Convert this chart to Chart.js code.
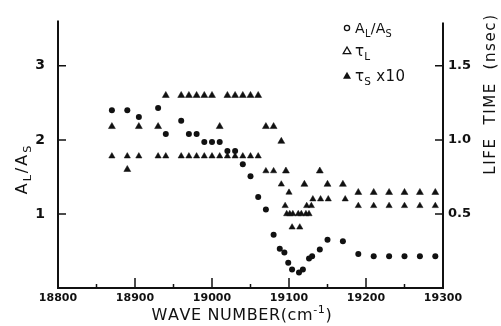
<!DOCTYPE html>
<html>
<head>
<meta charset="utf-8">
<script src="https://cdn.jsdelivr.net/npm/chart.js@4/dist/chart.umd.min.js"></script>
<style>
    html, body { margin: 0; padding: 0; background: #fff; }
    #wrap { width: 501px; height: 326px; }
</style>
</head>
<body>
<div id="wrap"><canvas id="chart" width="501" height="326"></canvas></div>
<script>
    "use strict";

    // A_L / A_S (left axis)
    var ratioWave = [18870, 18890, 18905, 18930, 18940, 18960, 18970, 18980, 18990, 19000, 19010, 19020,
        19030, 19040, 19050, 19060, 19070, 19080, 19088, 19094, 19099, 19104, 19113, 19118, 19126, 19130,
        19140, 19150, 19170, 19190, 19210, 19230, 19250, 19270, 19290];
    var ratioValue = [2.40, 2.40, 2.31, 2.43, 2.08, 2.26, 2.08, 2.08, 1.97, 1.97, 1.97, 1.85,
        1.85, 1.67, 1.51, 1.23, 1.06, 0.72, 0.53, 0.48, 0.34, 0.25, 0.21, 0.25, 0.40, 0.43,
        0.52, 0.65, 0.63, 0.46, 0.43, 0.43, 0.43, 0.43, 0.43];

    // tau_S x 10 (right axis, nsec)
    var tauSWave = [18870, 18890, 18905, 18930, 18940, 18960, 18970, 18980, 18990, 19000, 19010, 19020,
        19030, 19040, 19050, 19060, 19070, 19080, 19090, 19096, 19120, 19140, 19150, 19170,
        19190, 19210, 19230, 19250, 19270, 19290];
    var tauSValue = [1.09, 0.80, 1.09, 1.09, 1.30, 1.30, 1.30, 1.30, 1.30, 1.30, 1.09, 1.30,
        1.30, 1.30, 1.30, 1.30, 1.09, 1.09, 0.99, 0.79, 0.70, 0.79, 0.70, 0.70,
        0.645, 0.645, 0.645, 0.645, 0.645, 0.645];

    // tau_L (right axis, nsec)
    var tauLWave = [18870, 18890, 18905, 18930, 18940, 18960, 18970, 18980, 18990, 19000, 19010, 19020,
        19030, 19040, 19050, 19060, 19070, 19080, 19090, 19095, 19100, 19104, 19114,
        19097, 19101, 19105, 19112, 19116, 19122, 19126, 19123, 19129,
        19131, 19141, 19151, 19173, 19190, 19210, 19230, 19250, 19270, 19290];
    var tauLValue = [0.89, 0.89, 0.89, 0.89, 0.89, 0.89, 0.89, 0.89, 0.89, 0.89, 0.89, 0.89,
        0.89, 0.89, 0.89, 0.89, 0.79, 0.79, 0.70, 0.555, 0.645, 0.41, 0.41,
        0.50, 0.50, 0.50, 0.50, 0.50, 0.50, 0.50, 0.555, 0.555,
        0.60, 0.60, 0.60, 0.60, 0.555, 0.555, 0.555, 0.555, 0.555, 0.555];

    var xTicks = [18800, 18900, 19000, 19100, 19200, 19300];
    var leftTicks = [1, 2, 3];
    var rightTicks = [0.5, 1.0, 1.5];

    var INK = '#111';
    var FAM = '"DejaVu Sans", sans-serif';

    function toPoints(xs, ys) {
        return xs.map(function (x, i) { return { x: x, y: ys[i] }; });
    }

    // text with sub/superscripts: parts = [[text, 0|1|2]], 1 = sub, 2 = sup
    function richWidth(ctx, parts, size, spacing) {
        var w = 0;
        parts.forEach(function (p) {
            ctx.font = (p[1] ? size * 0.7 : size) + 'px ' + FAM;
            w += ctx.measureText(p[0]).width + p[0].length * spacing;
        });
        return w;
    }

    function drawRich(ctx, parts, x, y, size, spacing) {
        parts.forEach(function (p) {
            var s = p[1] ? size * 0.7 : size;
            var dy = p[1] === 1 ? size * 0.28 : (p[1] === 2 ? -size * 0.42 : 0);
            ctx.font = s + 'px ' + FAM;
            for (var i = 0; i < p[0].length; i++) {
                ctx.fillText(p[0][i], x, y + dy);
                x += ctx.measureText(p[0][i]).width + spacing;
            }
        });
    }

    function triangle(ctx, x, y, r, filled) {
        ctx.beginPath();
        ctx.moveTo(x, y - r);
        ctx.lineTo(x + r * 0.95, y + r * 0.65);
        ctx.lineTo(x - r * 0.95, y + r * 0.65);
        ctx.closePath();
        if (filled) { ctx.fill(); } else { ctx.stroke(); }
    }

    var decorations = {
        id: 'decorations',
        afterDraw: function (chart) {
            var ctx = chart.ctx;
            var area = chart.chartArea;
            var sx = chart.scales.x, sl = chart.scales.yL, sr = chart.scales.yR;
            ctx.save();
            ctx.strokeStyle = INK;
            ctx.fillStyle = INK;

            // axis frame (no top line)
            ctx.lineWidth = 2;
            ctx.beginPath();
            ctx.moveTo(area.left, area.top - 1);
            ctx.lineTo(area.left, area.bottom);
            ctx.lineTo(area.right, area.bottom);
            ctx.lineTo(area.right, area.top + 1);
            ctx.stroke();

            // inward ticks
            ctx.lineWidth = 1.5;
            ctx.beginPath();
            for (var v = 18850; v < 19300; v += 50) {
                var px = sx.getPixelForValue(v);
                var len = xTicks.indexOf(v) >= 0 ? 10 : 4;
                ctx.moveTo(px, area.bottom);
                ctx.lineTo(px, area.bottom - len);
            }
            leftTicks.forEach(function (t) {
                var py = sl.getPixelForValue(t);
                ctx.moveTo(area.left + 1, py);
                ctx.lineTo(area.left + 8, py);
            });
            rightTicks.forEach(function (t) {
                var py = sr.getPixelForValue(t);
                ctx.moveTo(area.right - 1, py);
                ctx.lineTo(area.right - 8, py);
            });
            ctx.stroke();

            // axis titles
            ctx.textBaseline = 'alphabetic';
            var xt = [['WAVE NUMBER(cm', 0], ['-1', 2], [')', 0]];
            var w = richWidth(ctx, xt, 16, 0.6);
            drawRich(ctx, xt, 241 - w / 2, 320, 16, 0.6);

            var lt = [['A', 0], ['L', 1], ['/A', 0], ['S', 1]];
            ctx.save();
            ctx.translate(27, 169);
            ctx.rotate(-Math.PI / 2);
            w = richWidth(ctx, lt, 16, 2);
            drawRich(ctx, lt, -w / 2, 0, 16, 2);
            ctx.restore();

            var rt = [['LIFE  TIME  (nsec)', 0]];
            ctx.save();
            ctx.translate(495, 94);
            ctx.rotate(-Math.PI / 2);
            w = richWidth(ctx, rt, 15, 1.6);
            drawRich(ctx, rt, -w / 2, 0, 15, 1.6);
            ctx.restore();

            // legend
            ctx.lineWidth = 1.3;
            ctx.beginPath();
            ctx.arc(347, 28, 2.6, 0, Math.PI * 2);
            ctx.stroke();
            drawRich(ctx, [['A', 0], ['L', 1], ['/A', 0], ['S', 1]], 355, 33, 14, 0.3);
            triangle(ctx, 347, 51, 4, false);
            drawRich(ctx, [['τ', 0], ['L', 1]], 355, 56, 15, 0.3);
            triangle(ctx, 347, 76, 4.2, true);
            drawRich(ctx, [['τ', 0], ['S', 1], [' x10', 0]], 355, 81, 15, 0.3);
            ctx.restore();
        }
    };

    var ctx = document.getElementById('chart').getContext('2d');
    new Chart(ctx, {
        type: 'scatter',
        data: {
            datasets: [{
                label: 'A_L/A_S',
                data: toPoints(ratioWave, ratioValue),
                yAxisID: 'yL',
                pointStyle: 'circle',
                pointRadius: 3,
                backgroundColor: INK,
                borderWidth: 0
            }, {
                label: 'tau_L',
                data: toPoints(tauLWave, tauLValue),
                yAxisID: 'yR',
                pointStyle: 'triangle',
                pointRadius: 3.6,
                backgroundColor: INK,
                borderColor: INK,
                borderWidth: 0.5
            }, {
                label: 'tau_S x10',
                data: toPoints(tauSWave, tauSValue),
                yAxisID: 'yR',
                pointStyle: 'triangle',
                pointRadius: 4,
                backgroundColor: INK,
                borderColor: INK,
                borderWidth: 0.5
            }]
        },
        options: {
            responsive: false,
            animation: false,
            devicePixelRatio: 1,
            layout: { padding: { top: 9, left: 0, right: 0, bottom: 0 } },
            plugins: {
                legend: { display: false },
                tooltip: { enabled: false }
            },
            scales: {
                x: {
                    type: 'linear',
                    position: 'bottom',
                    min: 18800,
                    max: 19300,
                    grid: { display: false, drawTicks: false },
                    border: { display: false },
                    afterFit: function (s) { s.height = 38; },
                    ticks: {
                        stepSize: 50,
                        autoSkip: false,
                        maxRotation: 0,
                        padding: 4,
                        color: INK,
                        font: { family: FAM, size: 11, weight: 'bold' },
                        callback: function (v) { return xTicks.indexOf(v) >= 0 ? String(v) : ''; }
                    }
                },
                yL: {
                    type: 'linear',
                    position: 'left',
                    min: 0,
                    max: 3.6,
                    grid: { display: false, drawTicks: false },
                    border: { display: false },
                    afterFit: function (s) { s.width = 58; },
                    ticks: {
                        stepSize: 1,
                        padding: 13,
                        color: INK,
                        font: { family: FAM, size: 14, weight: 'bold' },
                        callback: function (v) { return leftTicks.indexOf(v) >= 0 ? String(v) : ''; }
                    }
                },
                yR: {
                    type: 'linear',
                    position: 'right',
                    min: 0,
                    max: 1.8,
                    grid: { display: false, drawTicks: false },
                    border: { display: false },
                    afterFit: function (s) { s.width = 58; },
                    ticks: {
                        stepSize: 0.5,
                        padding: 5,
                        color: INK,
                        font: { family: FAM, size: 13, weight: 'bold' },
                        callback: function (v) { return rightTicks.indexOf(v) >= 0 ? v.toFixed(1) : ''; }
                    }
                }
            }
        },
        plugins: [decorations]
    });
</script>
</body>
</html>
